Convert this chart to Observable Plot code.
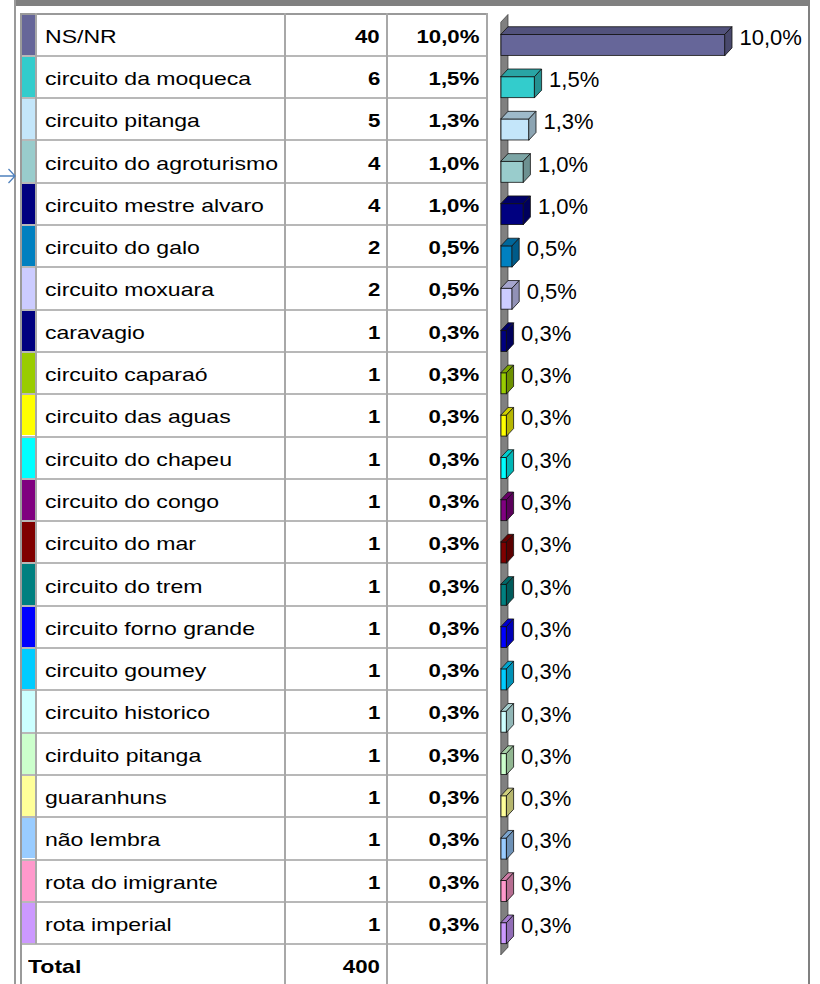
<!DOCTYPE html>
<html><head><meta charset="utf-8">
<script src="https://cdn.jsdelivr.net/npm/d3@7"></script>
<script src="https://cdn.jsdelivr.net/npm/@observablehq/plot@0.6"></script>
<style>
html,body{margin:0;padding:0;background:#fff;}
#page{position:relative;width:820px;height:984px;overflow:hidden;font-family:"Liberation Sans",Arial,sans-serif;background:#fff;}
.blk{position:absolute;}
.row{position:absolute;display:flex;align-items:center;box-sizing:border-box;padding-top:4px;font-size:18.5px;color:#000;white-space:nowrap;}
.lab .s{display:inline-block;transform:scaleX(1.245);transform-origin:left center;}
.num{justify-content:flex-end;font-weight:bold;}
.num .s{display:inline-block;transform:scaleX(1.2);transform-origin:right center;}
</style></head><body><div id="page"></div>
<script>
// ---- data ----
const categories = ["NS/NR","circuito da moqueca","circuito pitanga","circuito do agroturismo","circuito mestre alvaro","circuito do galo","circuito moxuara","caravagio","circuito caparaó","circuito das aguas","circuito do chapeu","circuito do congo","circuito do mar","circuito do trem","circuito forno grande","circuito goumey","circuito historico","cirduito pitanga","guaranhuns","não lembra","rota do imigrante","rota imperial"];
const counts = [40,6,5,4,4,2,2,1,1,1,1,1,1,1,1,1,1,1,1,1,1,1];
const pctLabels = ["10,0%","1,5%","1,3%","1,0%","1,0%","0,5%","0,5%","0,3%","0,3%","0,3%","0,3%","0,3%","0,3%","0,3%","0,3%","0,3%","0,3%","0,3%","0,3%","0,3%","0,3%","0,3%"];
const colors = ["#666699","#33CCCC","#C4E6FA","#99CCCC","#000080","#0080C0","#CCCCFF","#000080","#99CC00","#FFFF00","#00FFFF","#800080","#800000","#008080","#0000FF","#00CCFF","#CCFFFF","#CCFFCC","#FFFF99","#99CCFF","#FF99CC","#CC99FF"];
const totalLabel = "Total";
const totalCount = 400;

// ---- layout ----
const page = document.getElementById("page");
const TOP = 13.5, ROW = 42.3;
const colLines = [20, 35, 284, 386, 486];
const GRID = "#a8a8a8";
function blk(left, top, w, h, bg) {
  const d = document.createElement("div");
  d.className = "blk";
  Object.assign(d.style, {left: left + "px", top: top + "px", width: w + "px", height: h + "px", background: bg});
  page.appendChild(d);
  return d;
}
function row(cls, r, text, pos) {
  const d = document.createElement("div");
  d.className = "row " + cls;
  Object.assign(d.style, {top: (TOP + r * ROW) + "px", height: ROW + "px"}, pos);
  const s = document.createElement("span");
  s.className = "s";
  s.textContent = text;
  d.appendChild(s);
  page.appendChild(d);
}
const nRows = categories.length;

// swatches
categories.forEach((c, r) => blk(22, TOP + r * ROW + 1, 13, ROW - 2, colors[r]));

// texts
categories.forEach((c, r) => {
  row("lab", r, c, {left: "45px"});
  row("num", r, String(counts[r]), {left: "290px", width: "90px"});
  row("num", r, pctLabels[r], {left: "390px", width: "89px"});
});
row("lab", nRows, totalLabel, {left: "28px", fontWeight: "bold"});
row("num", nRows, String(totalCount), {left: "290px", width: "90px"});

// gridlines
for (let r = 0; r <= nRows + 1; r++) blk(20, TOP - 1 + r * ROW, 468, 2, r === 0 ? "#9a9a9a" : "#b8b8b8");
colLines.forEach((x, k) => blk(x, TOP - 1, 2, k === 1 ? nRows * ROW + 1 : 984, k === 0 ? "#9a9a9a" : GRID));

// ---- 3D bar chart with Plot ----
const K = 22.4, DX = 7, DY = 7.5;
const dxU = DX / K, dyU = DY / ROW;
const bars = categories.map((c, i) => {
  const col = d3.color(colors[i]);
  return {i, cat: c, pct: counts[i] / totalCount * 100, label: pctLabels[i],
    color: colors[i], top: col.darker(0.6).formatHex(), side: col.darker(0.95).formatHex()};
});
const F0 = 0.49, F1 = 0.99;
const topFaces = bars.flatMap(d => [
  {i: d.i, y: d.i + F0, x1: 0, x2: d.pct, fill: d.top},
  {i: d.i, y: d.i + F0 - dyU, x1: dxU, x2: d.pct + dxU, fill: d.top}
]);
const sideFaces = bars.flatMap(d => [
  {i: d.i, x: d.pct, y1: d.i + F0, y2: d.i + F1, fill: d.side},
  {i: d.i, x: d.pct + dxU, y1: d.i + F0 - dyU, y2: d.i + F1 - dyU, fill: d.side}
]);
const wall = [
  {x: 0, y1: 0.2, y2: nRows + 0.25},
  {x: dxU, y1: 0.2 - dyU, y2: nRows + 0.25 - dyU}
];
const PLEFT = 489, PW = 319;
const chart = Plot.plot({
  width: PW, height: 984, margin: 0,
  style: {background: "transparent"},
  x: {domain: [0, 13], range: [501 - PLEFT, 501 - PLEFT + 13 * K], axis: null},
  y: {domain: [0, nRows + 1], range: [TOP, TOP + (nRows + 1) * ROW], axis: null},
  color: {type: "identity"},
  marks: [
    Plot.areaY(wall, {x: "x", y1: "y1", y2: "y2", fill: "#808080", stroke: "#333", strokeWidth: 0.7}),
    Plot.rect(bars, {x1: 0, x2: "pct", y1: d => d.i + F0, y2: d => d.i + F1, fill: "color", stroke: "#111", strokeWidth: 0.8}),
    Plot.areaX(topFaces, {y: "y", x1: "x1", x2: "x2", z: "i", fill: "fill", stroke: "#111", strokeWidth: 0.8}),
    Plot.areaY(sideFaces, {x: "x", y1: "y1", y2: "y2", z: "i", fill: "fill", stroke: "#111", strokeWidth: 0.8}),
    Plot.text(bars, {x: "pct", y: d => d.i + 0.56, text: "label", textAnchor: "start", dx: 14,
      fontSize: 22, fontFamily: "Liberation Sans, Arial, sans-serif", fill: "#000"})
  ]
});
const holder = document.createElement("div");
holder.className = "blk";
Object.assign(holder.style, {left: PLEFT + "px", top: "0px", width: PW + "px", height: "984px"});
holder.appendChild(chart);
page.appendChild(holder);

// frame
blk(14, 0, 796, 6, "#808080");
blk(14, 0, 2, 984, "#9a9a9a");
blk(808, 0, 2, 984, "#808080");

// arrow marker at left edge
const ns = "http://www.w3.org/2000/svg";
const arr = document.createElementNS(ns, "svg");
arr.setAttribute("width", "16"); arr.setAttribute("height", "22");
Object.assign(arr.style, {position: "absolute", left: "0px", top: "165px"});
const p = document.createElementNS(ns, "path");
p.setAttribute("d", "M0,11H14.5M8.5,4L15,11L8.5,18");
p.setAttribute("stroke", "#4f81bd"); p.setAttribute("fill", "none"); p.setAttribute("stroke-width", "1.3");
arr.appendChild(p);
page.appendChild(arr);
</script></body></html>
